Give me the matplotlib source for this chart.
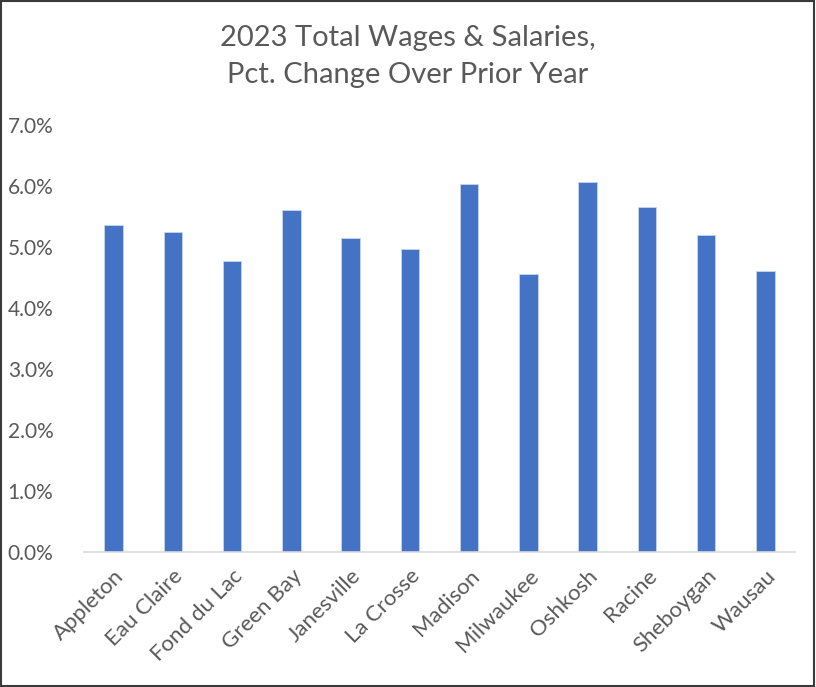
import matplotlib
matplotlib.use('Agg')
import matplotlib.pyplot as plt
from matplotlib.patches import Rectangle
from matplotlib.ticker import FuncFormatter
import numpy as np

# Values (percent change)
cities = ['Appleton', 'Eau Claire', 'Fond du Lac', 'Green Bay', 'Janesville',
          'La Crosse', 'Madison', 'Milwaukee', 'Oshkosh', 'Racine',
          'Sheboygan', 'Wausau']
pct_change = [5.36, 5.24, 4.77, 5.60, 5.14, 4.96,
              6.03, 4.55, 6.06, 5.65, 5.19, 4.61]
y_ticks = [0, 1, 2, 3, 4, 5, 6, 7]
title_lines = ['2023 Total Wages & Salaries,', 'Pct. Change Over Prior Year']

text_color = '#595959'
bar_color = '#4472C4'

plt.rcParams['font.family'] = ['Lato', 'DejaVu Sans']

fig = plt.figure(figsize=(8.16, 6.87), dpi=100)
ax = fig.add_axes([84 / 816, 1 - 552 / 687, 711 / 816, 427 / 687])

x = np.arange(len(cities))
ax.bar(x, pct_change, width=0.31, color=bar_color, edgecolor='#c9d5ee',
       linewidth=0.6, zorder=2)

ax.set_xlim(-0.5, len(cities) - 0.5)
ax.set_ylim(0, 7)
ax.set_yticks(y_ticks)
ax.yaxis.set_major_formatter(FuncFormatter(lambda v, _: '%.1f%%' % v))
ax.set_xticks(x)
ax.set_xticklabels(cities, rotation=45, ha='right', rotation_mode='anchor')

for s in ['top', 'right', 'left']:
    ax.spines[s].set_visible(False)
ax.spines['bottom'].set_color('#d9d9d9')
ax.spines['bottom'].set_linewidth(1.2)

ax.tick_params(axis='y', length=0, pad=22, labelsize=15, labelcolor=text_color)
ax.tick_params(axis='x', length=0, pad=10, labelsize=16, labelcolor=text_color)

# two-line title
fig.text(0.5, 1 - 38 / 687, title_lines[0], ha='center', va='center',
         fontsize=21, color=text_color)
fig.text(0.5, 1 - 75 / 687, title_lines[1], ha='center', va='center',
         fontsize=21, color=text_color)

# chart border
fig.patches.append(Rectangle((0.0015, 0.002), 0.9955, 0.996,
                             transform=fig.transFigure, fill=False,
                             edgecolor='#3a3a3a', linewidth=1.5))

fig.savefig('out.png', dpi=100)
